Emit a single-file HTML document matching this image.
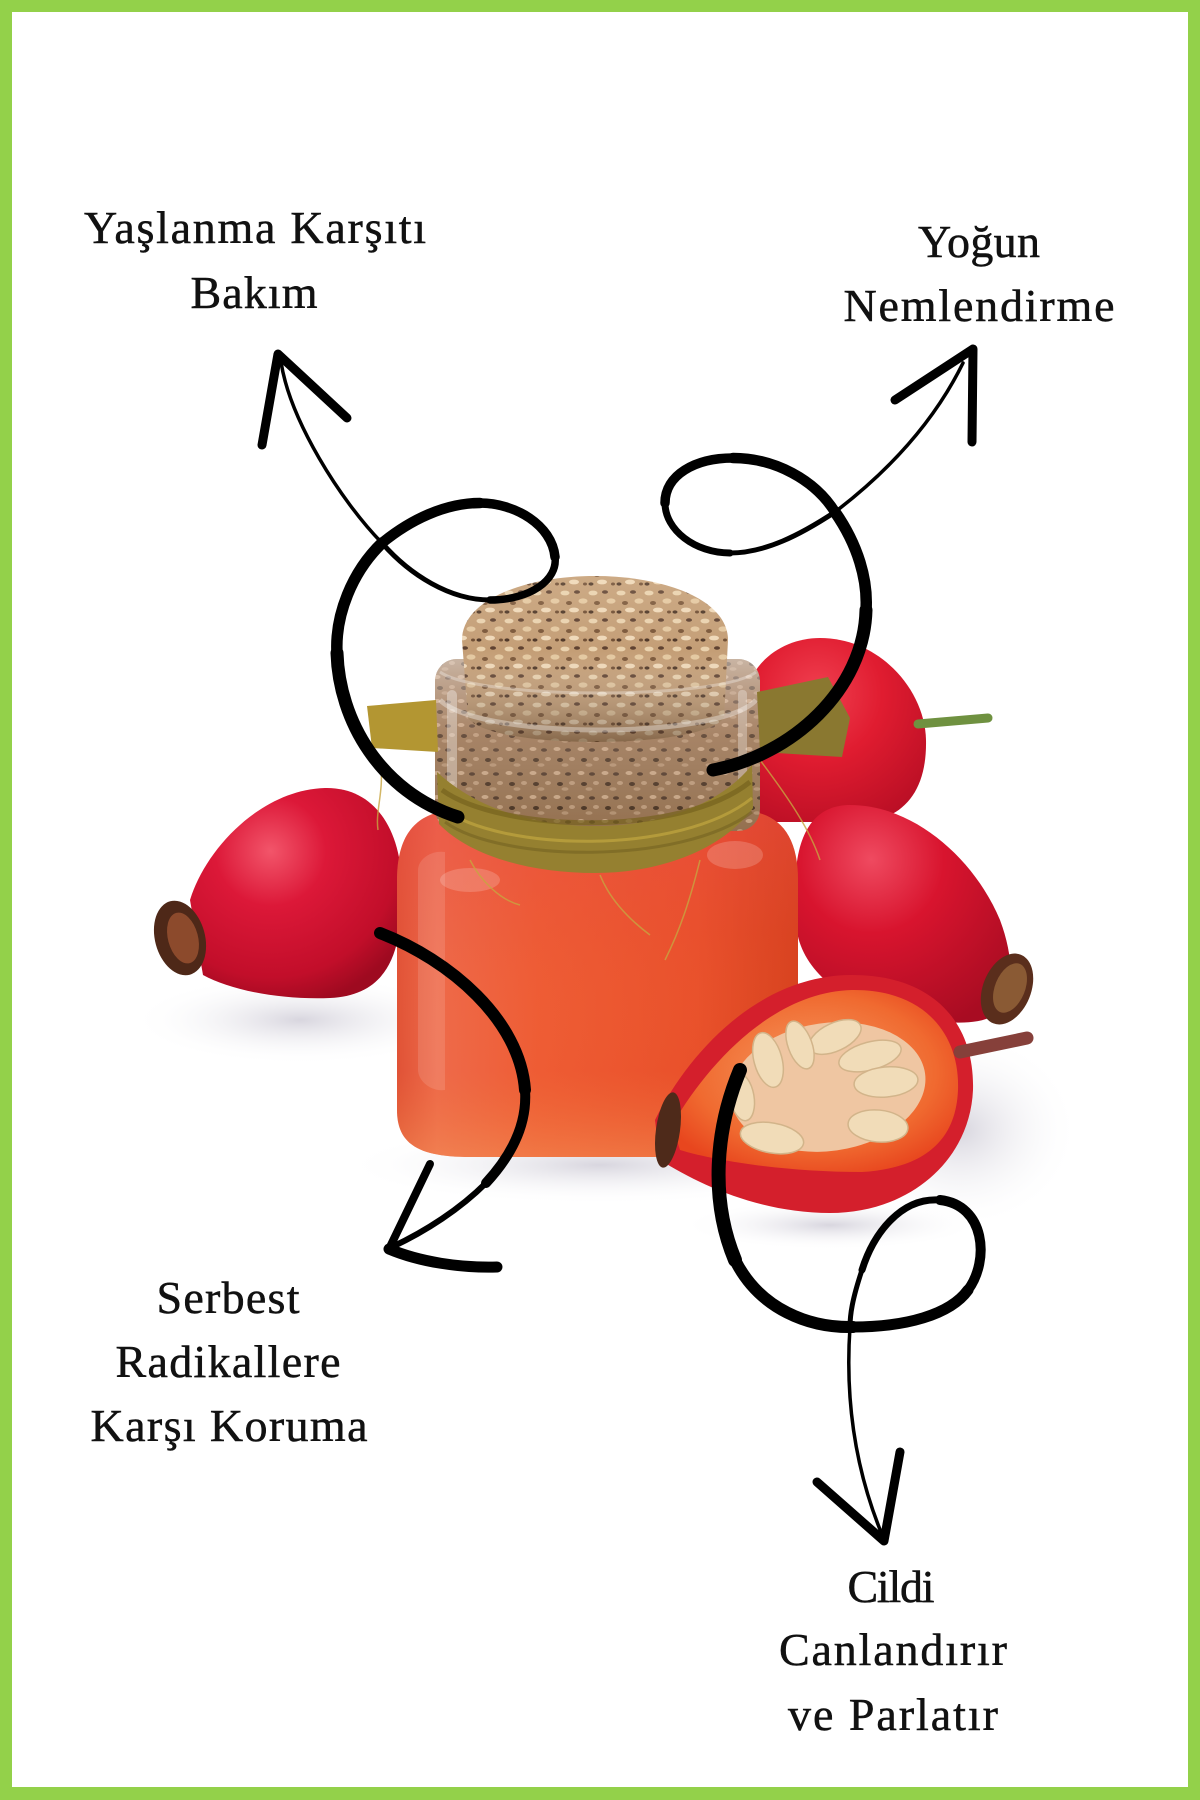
<!DOCTYPE html>
<html><head><meta charset="utf-8"><style>
html,body{margin:0;padding:0;background:#fff;}
svg{display:block;}
text{font-family:"Liberation Serif",serif;font-size:46px;fill:#111;stroke:#111;stroke-width:0.5;}
</style></head><body>
<svg width="1200" height="1800" viewBox="0 0 1200 1800" xmlns="http://www.w3.org/2000/svg">
<defs>
<pattern id="cork" width="28" height="28" patternUnits="userSpaceOnUse">
<rect width="28" height="28" fill="#c49e76"/>
<ellipse cx="5" cy="5" rx="4.5" ry="2.4" fill="#ead2ae"/>
<ellipse cx="17" cy="4" rx="3" ry="1.8" fill="#5e4130"/>
<ellipse cx="23" cy="13" rx="4.5" ry="2.6" fill="#e4c8a0"/>
<ellipse cx="9" cy="15" rx="3" ry="2" fill="#7a5638"/>
<ellipse cx="14" cy="22" rx="5" ry="2.4" fill="#efd8b8"/>
<ellipse cx="3" cy="24" rx="2.5" ry="1.6" fill="#4e3626"/>
<ellipse cx="25" cy="24" rx="2" ry="1.5" fill="#6e4c32"/>
</pattern>
<pattern id="corkD" width="24" height="24" patternUnits="userSpaceOnUse">
<rect width="24" height="24" fill="#94704f"/>
<ellipse cx="5" cy="5" rx="3.5" ry="2" fill="#c4a282"/>
<ellipse cx="16" cy="6" rx="3" ry="1.8" fill="#4e3626"/>
<ellipse cx="20" cy="15" rx="3" ry="2" fill="#b89676"/>
<ellipse cx="8" cy="16" rx="3" ry="2" fill="#46301f"/>
<ellipse cx="13" cy="21" rx="3.5" ry="1.8" fill="#b08e6e"/>
</pattern>
<linearGradient id="corkShade" x1="0" x2="0" y1="0" y2="1">
<stop offset="0" stop-color="#fff2dc" stop-opacity="0.15"/><stop offset="0.45" stop-color="#fff" stop-opacity="0"/><stop offset="1" stop-color="#3a2414" stop-opacity="0.45"/>
</linearGradient>
<linearGradient id="glass" x1="0" x2="0" y1="0" y2="1">
<stop offset="0" stop-color="#f4ece8" stop-opacity="0.55"/><stop offset="0.45" stop-color="#f0d0c0" stop-opacity="0.2"/><stop offset="1" stop-color="#fff" stop-opacity="0"/>
</linearGradient>
<radialGradient id="hipL" cx="0.38" cy="0.3" r="0.75">
<stop offset="0" stop-color="#f2556a"/><stop offset="0.35" stop-color="#dc1838"/><stop offset="0.8" stop-color="#c20e2a"/><stop offset="1" stop-color="#9e0a20"/>
</radialGradient>
<radialGradient id="hipB" cx="0.4" cy="0.3" r="0.8">
<stop offset="0" stop-color="#f04050"/><stop offset="0.45" stop-color="#e01c30"/><stop offset="1" stop-color="#b80e24"/>
</radialGradient>
<radialGradient id="hipM" cx="0.35" cy="0.25" r="0.85">
<stop offset="0" stop-color="#ef4a60"/><stop offset="0.4" stop-color="#d8142e"/><stop offset="1" stop-color="#a80c22"/>
</radialGradient>
<linearGradient id="jarH" x1="0" x2="1" y1="0" y2="0">
<stop offset="0" stop-color="#e05236"/><stop offset="0.1" stop-color="#ee6a4a"/><stop offset="0.35" stop-color="#ee5c34"/><stop offset="0.75" stop-color="#e9502a"/><stop offset="1" stop-color="#d6401c"/>
</linearGradient>
<linearGradient id="jarV" x1="0" x2="0" y1="0" y2="1">
<stop offset="0" stop-color="#e84a4a" stop-opacity="0.45"/><stop offset="0.35" stop-color="#e85040" stop-opacity="0.15"/><stop offset="0.75" stop-color="#f07a3a" stop-opacity="0"/><stop offset="1" stop-color="#f59a5a" stop-opacity="0.45"/>
</linearGradient>
<radialGradient id="shad" cx="0.5" cy="0.5" r="0.5">
<stop offset="0" stop-color="#b8b4c4" stop-opacity="0.55"/><stop offset="1" stop-color="#ffffff" stop-opacity="0"/>
</radialGradient>
<radialGradient id="face" cx="0.5" cy="0.45" r="0.6">
<stop offset="0" stop-color="#f59a60"/><stop offset="0.7" stop-color="#f06a30"/><stop offset="1" stop-color="#e8461e"/>
</radialGradient>
</defs>

<rect x="0" y="0" width="1200" height="1800" fill="#93d14a"/>
<rect x="12" y="12" width="1176" height="1775" fill="#ffffff"/>

<!-- shadows -->
<ellipse cx="300" cy="1020" rx="170" ry="45" fill="url(#shad)"/>
<ellipse cx="600" cy="1165" rx="260" ry="40" fill="url(#shad)"/>
<ellipse cx="960" cy="1130" rx="120" ry="100" fill="url(#shad)"/>
<ellipse cx="830" cy="1225" rx="150" ry="25" fill="url(#shad)"/>

<!-- back right hip -->
<path d="M745,700 C750,660 785,638 820,638 C880,638 925,690 926,740 C927,790 905,815 870,822 L760,822 Z" fill="url(#hipB)"/>
<line x1="918" y1="724" x2="988" y2="718" stroke="#6f9140" stroke-width="9" stroke-linecap="round"/>

<!-- middle right hip -->
<path d="M796,870 C800,825 820,805 850,805 C915,805 975,860 1000,920 C1015,960 1015,1000 995,1015 C970,1030 920,1020 880,1010 C830,995 796,960 796,920 Z" fill="url(#hipM)"/>
<ellipse cx="1007" cy="989" rx="24" ry="37" transform="rotate(22 1007 989)" fill="#5a2e1c"/>
<ellipse cx="1010" cy="988" rx="15" ry="26" transform="rotate(22 1010 988)" fill="#8a5a34"/>

<!-- left hip -->
<path d="M190,900 C205,850 260,790 325,788 C375,787 402,830 402,890 C402,950 390,995 330,998 C280,1000 230,990 203,975 Z" fill="url(#hipL)"/>
<ellipse cx="180" cy="938" rx="25" ry="38" transform="rotate(-15 180 938)" fill="#4e2818"/>
<ellipse cx="183" cy="938" rx="15" ry="26" transform="rotate(-15 183 938)" fill="#8c4a2c"/>

<!-- jar body -->
<path d="M440,812 C412,818 397,840 397,880 L397,1110 C397,1145 420,1157 470,1157 L728,1157 C778,1157 798,1145 798,1110 L798,880 C798,840 783,818 755,812 Z" fill="url(#jarH)"/>
<path d="M440,812 C412,818 397,840 397,880 L397,1110 C397,1145 420,1157 470,1157 L728,1157 C778,1157 798,1145 798,1110 L798,880 C798,840 783,818 755,812 Z" fill="url(#jarV)"/>
<path d="M418,870 C418,860 430,850 445,852 L445,1090 C430,1092 418,1080 418,1070 Z" fill="#ffffff" opacity="0.12"/>
<ellipse cx="470" cy="880" rx="30" ry="12" fill="#ffffff" opacity="0.18"/>
<ellipse cx="735" cy="855" rx="28" ry="14" fill="#ffffff" opacity="0.18"/>

<!-- neck -->
<rect x="435" y="659" width="325" height="172" rx="22" fill="url(#corkD)"/>
<rect x="435" y="659" width="325" height="172" rx="22" fill="url(#glass)"/>
<rect x="447" y="690" width="10" height="110" rx="5" fill="#fff" opacity="0.35"/>
<rect x="738" y="690" width="9" height="100" rx="4" fill="#fff" opacity="0.3"/>

<!-- cork -->
<path d="M462,640 C462,600 525,576 595,576 C665,576 728,600 728,640 L724,718 C700,750 490,750 468,718 Z" fill="url(#cork)"/>
<path d="M462,640 C462,600 525,576 595,576 C665,576 728,600 728,640 L724,718 C700,750 490,750 468,718 Z" fill="url(#corkShade)"/>
<path d="M440,700 C480,740 720,740 756,700" fill="none" stroke="#fff" stroke-width="5" opacity="0.35"/>
<path d="M440,672 C480,700 720,700 756,672" fill="none" stroke="#fff" stroke-width="3" opacity="0.3"/>

<!-- twine -->
<path d="M437,772 C480,812 540,826 595,826 C660,826 720,805 752,765 L753,808 C722,850 660,873 595,873 C530,873 470,856 439,824 Z" fill="#958030"/>
<path d="M442,790 C500,832 680,838 750,782" fill="none" stroke="#76621e" stroke-width="5" opacity="0.7"/>
<path d="M442,808 C500,852 680,856 752,798" fill="none" stroke="#c2a640" stroke-width="3" opacity="0.7"/>
<path d="M445,822 C500,862 680,866 752,812" fill="none" stroke="#6e5c1e" stroke-width="3" opacity="0.5"/>
<path d="M367,706 L436,700 L438,752 L372,748 Z" fill="#b39632"/>
<path d="M757,692 L828,677 L850,718 L842,757 L760,752 Z" fill="#8a7830"/>
<g stroke="#c8a540" stroke-width="1.5" fill="none" opacity="0.8">
<path d="M380,760 C385,790 375,810 378,830"/><path d="M760,760 C790,800 810,830 820,860"/><path d="M600,875 C610,900 630,920 650,935"/><path d="M700,860 C690,900 680,930 665,960"/><path d="M470,860 C480,880 500,900 520,905"/>
</g>

<!-- half hip -->
<path d="M655,1120 C690,1050 760,976 850,975 C930,974 975,1020 973,1090 C970,1160 910,1213 830,1213 C760,1213 700,1185 660,1160 Z" fill="#d41f2c"/>
<path d="M672,1125 C710,1060 775,992 852,990 C920,989 960,1030 958,1090 C956,1140 925,1168 862,1172 C790,1172 720,1162 680,1150 Z" fill="url(#face)"/>
<ellipse cx="828" cy="1087" rx="98" ry="64" transform="rotate(-8 828 1087)" fill="#efc6a2"/>
<g fill="#f1dcb8" stroke="#d2b48a" stroke-width="1.5">
<ellipse cx="835" cy="1037" rx="28" ry="14" transform="rotate(-25 835 1037)"/>
<ellipse cx="870" cy="1056" rx="32" ry="14" transform="rotate(-15 870 1056)"/>
<ellipse cx="886" cy="1082" rx="32" ry="15" transform="rotate(-5 886 1082)"/>
<ellipse cx="878" cy="1126" rx="30" ry="16" transform="rotate(5 878 1126)"/>
<ellipse cx="772" cy="1138" rx="32" ry="15" transform="rotate(10 772 1138)"/>
<ellipse cx="768" cy="1060" rx="14" ry="28" transform="rotate(-15 768 1060)"/>
<ellipse cx="742" cy="1097" rx="12" ry="24" transform="rotate(-10 742 1097)"/>
<ellipse cx="800" cy="1045" rx="12" ry="25" transform="rotate(-20 800 1045)"/>
</g>
<ellipse cx="668" cy="1130" rx="12" ry="38" transform="rotate(8 668 1130)" fill="#4e2a1a"/>
<line x1="960" y1="1052" x2="1027" y2="1038" stroke="#86403a" stroke-width="13" stroke-linecap="round"/>

<!-- arrows -->
<g fill="none" stroke="#000" stroke-linecap="round" stroke-linejoin="round">
<path d="M281,362 C290,420 340,500 382,543" stroke-width="3.5"/>
<path d="M382,543 C410,575 450,600 490,600" stroke-width="5"/>
<path d="M490,600 C530,600 558,580 555,557" stroke-width="7.5"/>
<path d="M555,557 C552,525 515,503 480,503" stroke-width="9.5"/>
<path d="M480,503 C445,503 410,520 382,543" stroke-width="10.5"/>
<path d="M382,543 C352,572 335,615 337,653" stroke-width="11.5"/>
<path d="M337,653 C339,720 380,792 458,817" stroke-width="13"/>
<path d="M262,445 L278,354 L347,418" stroke-width="9"/>
<path d="M963,363 C935,420 890,470 835,512" stroke-width="3.5"/>
<path d="M835,512 C800,535 765,553 730,553" stroke-width="5"/>
<path d="M730,553 C695,553 665,530 665,503" stroke-width="7"/>
<path d="M665,503 C665,475 695,458 733,458" stroke-width="9.5"/>
<path d="M733,458 C775,458 815,480 835,512" stroke-width="10.5"/>
<path d="M835,512 C858,545 868,580 866,610" stroke-width="11.5"/>
<path d="M866,610 C864,690 792,755 713,770" stroke-width="13"/>
<path d="M895,400 L973,349 L972,442" stroke-width="9"/>
<path d="M380,933 C450,960 520,1020 525,1090" stroke-width="12"/>
<path d="M525,1090 C527.5,1125 511,1156 486,1183" stroke-width="10"/>
<path d="M486,1183 C460,1209 426,1231 392,1247" stroke-width="6"/>
<path d="M430,1164 L389,1249" stroke-width="8"/>
<path d="M389,1249 C420,1262 460,1268 497,1267" stroke-width="11"/>
<path d="M740,1070 C715,1130 710,1200 735,1260" stroke-width="14"/>
<path d="M735,1260 C760,1310 810,1328 853,1327" stroke-width="12"/>
<path d="M853,1327 C905,1327 950,1315 968,1290" stroke-width="11"/>
<path d="M968,1290 C990,1260 985,1205 940,1200" stroke-width="10"/>
<path d="M940,1200 C900,1197 873,1235 862,1270" stroke-width="7"/>
<path d="M862,1270 C852,1300 850,1315 850,1327" stroke-width="5"/>
<path d="M850,1327 C845,1400 855,1470 883,1537" stroke-width="3.5"/>
<path d="M817,1482 L884,1541 L900,1452" stroke-width="9"/>
</g>

<!-- labels -->
<text x="255" y="243" text-anchor="middle" textLength="342">Yaşlanma Karşıtı</text>
<text x="254" y="308" text-anchor="middle" textLength="127">Bakım</text>
<text x="979" y="257" text-anchor="middle" textLength="122">Yoğun</text>
<text x="979" y="321" text-anchor="middle" textLength="271">Nemlendirme</text>
<text x="228" y="1313" text-anchor="middle" textLength="143">Serbest</text>
<text x="228" y="1377" text-anchor="middle" textLength="225">Radikallere</text>
<text x="229" y="1441" text-anchor="middle" textLength="277">Karşı Koruma</text>
<text x="891" y="1602" text-anchor="middle" textLength="87">Cildi</text>
<text x="893" y="1665" text-anchor="middle" textLength="228">Canlandırır</text>
<text x="893" y="1730" text-anchor="middle" textLength="210">ve Parlatır</text>
</svg>
</body></html>
